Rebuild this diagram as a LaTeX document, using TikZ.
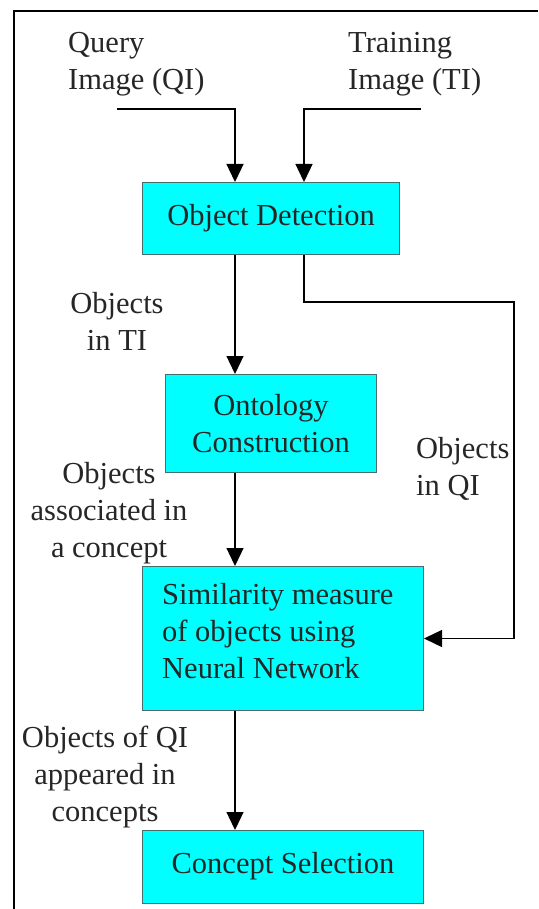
\documentclass[tikz,border=0pt]{standalone}
\usepackage{fontspec}
\setmainfont{Liberation Serif}
\usetikzlibrary{arrows.meta}
\definecolor{boxcyan}{RGB}{0,255,255}
\definecolor{boxedge}{RGB}{70,110,110}
\begin{document}
\begin{tikzpicture}[x=1pt,y=-1pt,
  txt/.style={font=\fontsize{30.5}{37}\selectfont, text=black!85, inner sep=0pt},
  procbox/.style={txt, draw=boxedge, line width=1pt, fill=boxcyan, anchor=north west},
  arr/.style={line width=1.3pt, -{Triangle[length=18pt,width=17pt]}},
  ln/.style={line width=1.3pt}]
  \useasboundingbox (0,0) rectangle (538,909);
  % outer frame (left and top edges)
  \draw[line width=1.6pt] (14,909) -- (14,11) -- (538,11);

  % process boxes
  \node[procbox, minimum width=257pt, minimum height=72pt, text depth=8pt] (od) at (142,182) {Object Detection};
  \node[procbox, minimum width=211pt, minimum height=98pt, align=center] (oc) at (165,374) {Ontology\\Construction};
  \node[procbox, minimum width=281pt, minimum height=144pt] (sim) at (142,566) {};
  \node[txt, align=left, anchor=base west] (simt) at (162,678) {Similarity measure\\of objects using\\Neural Network};
  \node[procbox, minimum width=281pt, minimum height=73pt, text depth=8pt] (cs) at (142,830) {Concept Selection};

  % input labels
  \node[txt, align=left, anchor=base west] (qi) at (68,90) {Query\\Image (QI)};
  \node[txt, align=left, anchor=base west] (ti) at (348,90) {Training\\Image (TI)};

  % connector labels
  \node[txt, align=center, anchor=base] (lti) at (117,350) {Objects\\in TI};
  \node[txt, align=center, anchor=base] (lassoc) at (109,557) {Objects\\associated in\\a concept};
  \node[txt, align=left, anchor=base west] (lqi) at (416,495) {Objects\\in QI};
  \node[txt, align=center, anchor=base] (lapp) at (105,821) {Objects of QI\\appeared in\\concepts};

  % helper coordinates
  \coordinate (xa) at (235,0);
  \coordinate (xb) at (304,0);
  \coordinate (qs) at (117,109);
  \coordinate (ts) at (421,109);
  \coordinate (qr) at (514,302);

  % connectors
  \draw[arr] (qs) -| (od.north -| xa);
  \draw[arr] (ts) -| (od.north -| xb);
  \draw[arr] (od.south -| xa) -- (oc.north -| xa);
  \draw[arr] (od.south -| xb) |- (qr) |- (sim.east);
  \draw[arr] (oc.south -| xa) -- (sim.north -| xa);
  \draw[arr] (sim.south -| xa) -- (cs.north -| xa);
\end{tikzpicture}
\end{document}
